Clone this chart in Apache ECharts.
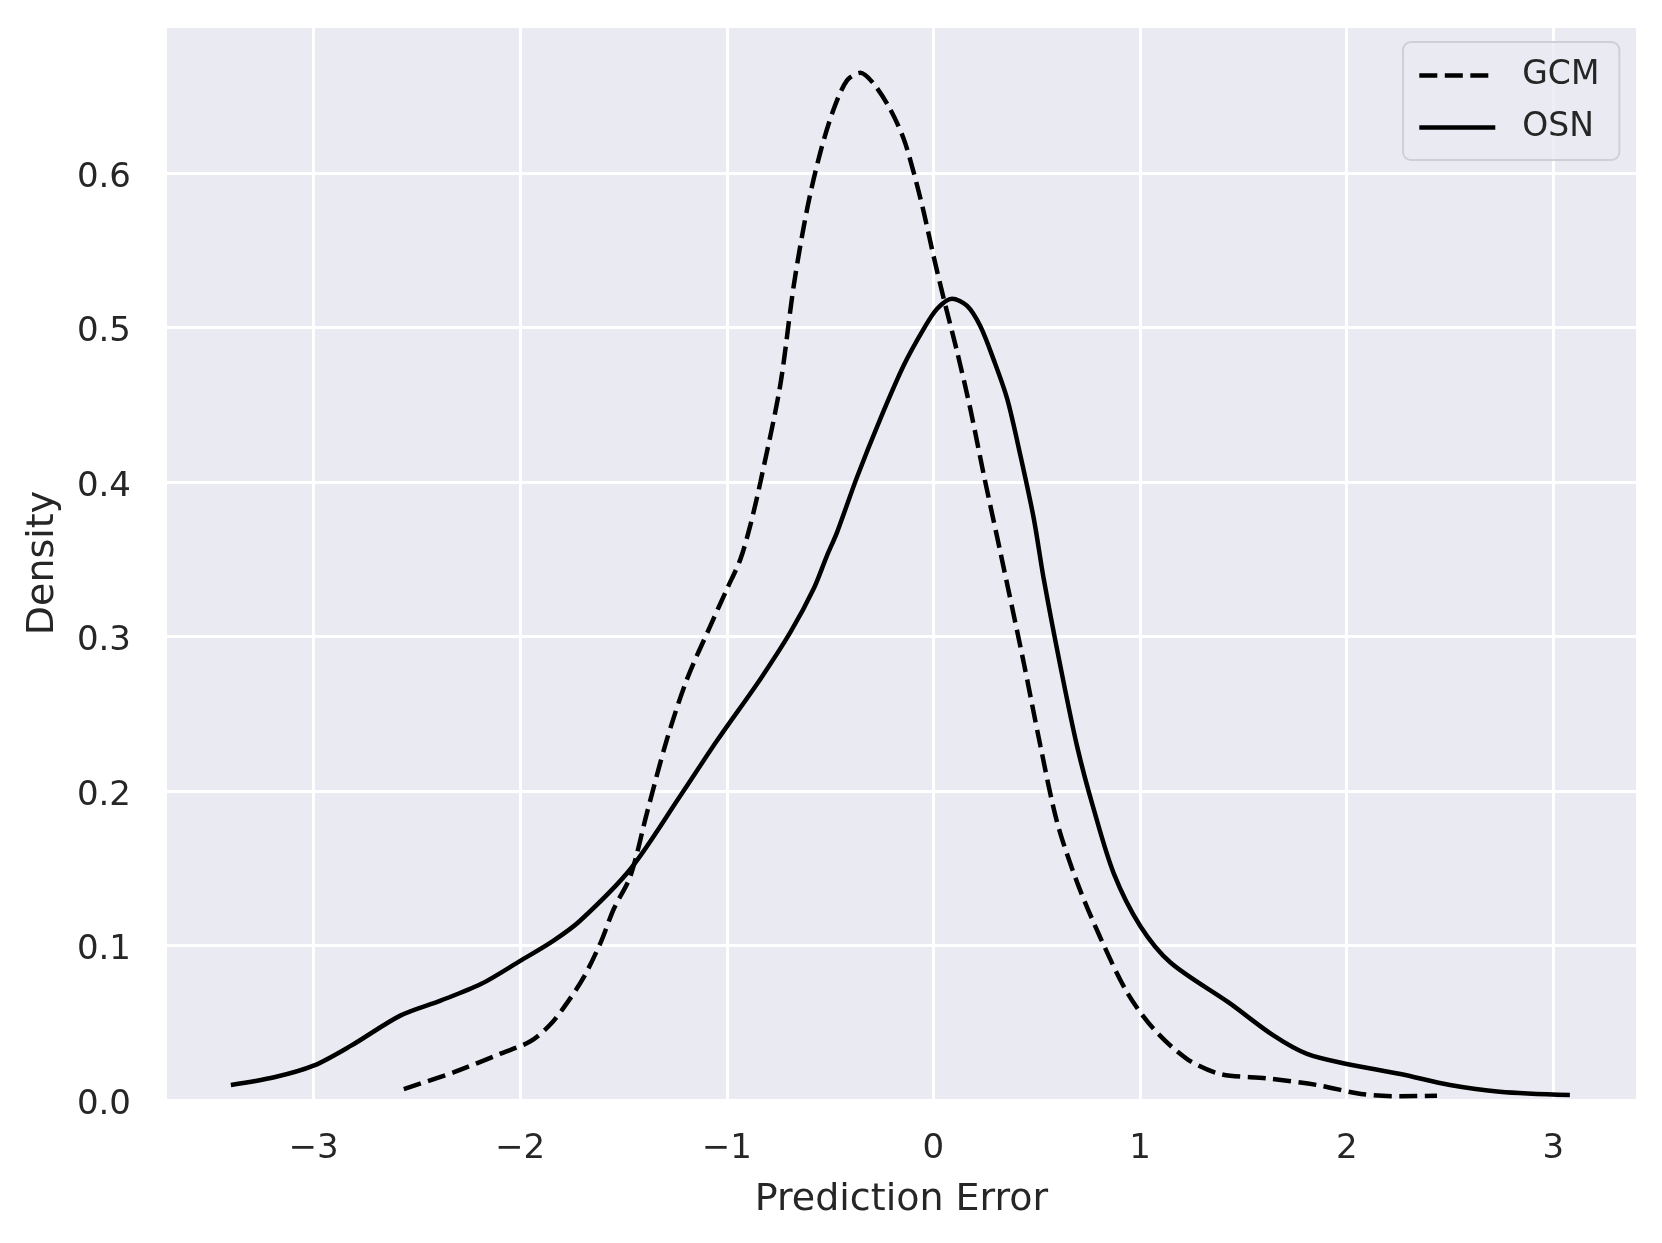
<!DOCTYPE html>
<html>
<head>
<meta charset="utf-8">
<script src="https://cdn.jsdelivr.net/npm/echarts@6/dist/echarts.min.js"></script>
<style>
  html, body { margin: 0; padding: 0; background: #fff; }
  #main { width: 1662px; height: 1243px; }
</style>
</head>
<body>
<div id="main"></div>
<script>
// GCM density curve (dashed)
const gcmX = [-2.563, -2.32, -2.095, -1.95, -1.853, -1.772, -1.69, -1.61, -1.547, -1.466, -1.386, -1.289, -1.192, -1.079, -0.998, -0.934, -0.886, -0.837, -0.742, -0.676, -0.611, -0.547, -0.482, -0.418, -0.354, -0.289, -0.21, -0.144, -0.096, -0.047, 0.0, 0.05, 0.115, 0.179, 0.243, 0.324, 0.437, 0.518, 0.598, 0.695, 0.808, 0.937, 1.066, 1.228, 1.389, 1.615, 1.857, 2.07, 2.26, 2.437];
const gcmY = [0.0071, 0.018, 0.030, 0.038, 0.049, 0.063, 0.080, 0.102, 0.1236, 0.145, 0.186, 0.2337, 0.2725, 0.307, 0.331, 0.350, 0.372, 0.400, 0.462, 0.527, 0.5767, 0.6134, 0.6414, 0.6598, 0.6647, 0.6576, 0.6414, 0.622, 0.6005, 0.5746, 0.5465, 0.5185, 0.484, 0.447, 0.405, 0.3545, 0.283, 0.229, 0.18, 0.141, 0.105, 0.0697, 0.046, 0.0265, 0.0168, 0.014, 0.0097, 0.0039, 0.0024, 0.0028];

// OSN density curve (solid)
const osnX = [-3.40, -3.19, -3.0, -2.82, -2.58, -2.385, -2.19, -2.0, -1.84, -1.71, -1.466, -1.224, -1.047, -0.837, -0.692, -0.579, -0.516, -0.466, -0.37, -0.257, -0.144, -0.047, 0.018, 0.09, 0.162, 0.226, 0.29, 0.357, 0.421, 0.486, 0.534, 0.614, 0.695, 0.776, 0.873, 1.0, 1.147, 1.43, 1.647, 1.808, 2.0, 2.26, 2.5, 2.74, 3.08];
const osnY = [0.0097, 0.0147, 0.0222, 0.035, 0.0546, 0.0643, 0.075, 0.090, 0.103, 0.116, 0.1495, 0.197, 0.2326, 0.2725, 0.3027, 0.331, 0.352, 0.3675, 0.403, 0.4408, 0.4753, 0.499, 0.512, 0.5185, 0.514, 0.501, 0.4796, 0.4537, 0.417, 0.376, 0.337, 0.281, 0.229, 0.188, 0.1465, 0.1128, 0.089, 0.063, 0.0416, 0.0298, 0.0233, 0.0168, 0.0097, 0.0054, 0.0032];

const xTicks = [-3, -2, -1, 0, 1, 2, 3];

const pairs = (xs, ys) => xs.map((x, i) => [x, ys[i]]);
const font = 'DejaVu Sans';
const textColor = '#262626';
const dash = [18, 7.5];

const chart = echarts.init(document.getElementById('main'));
const option = {
  animation: false,
  backgroundColor: '#ffffff',
  grid: {
    left: 167, right: 26, top: 26, bottom: 143,
    show: true, backgroundColor: '#EAEAF2', borderWidth: 0
  },
  legend: {
    orient: 'vertical',
    left: 1403, top: 42,
    padding: [17, 20, 16, 14],
    itemWidth: 76, itemHeight: 33, itemGap: 19,
    backgroundColor: 'rgba(234,234,242,0.8)',
    borderColor: '#CFCFD6', borderWidth: 2, borderRadius: 8,
    itemStyle: { color: 'transparent', borderColor: 'transparent', borderWidth: 0, opacity: 0 },
    textStyle: { fontFamily: font, fontSize: 33, color: textColor, lineHeight: 33, padding: [0, 0, 0, 22] },
    data: [
      { name: 'GCM', lineStyle: { color: '#000', width: 4.6, type: dash } },
      { name: 'OSN', lineStyle: { color: '#000', width: 4.6, type: 'solid' } }
    ]
  },
  xAxis: {
    type: 'value',
    min: -3.709, max: 3.40,
    name: 'Prediction Error',
    nameLocation: 'middle', nameGap: 81,
    nameTextStyle: { fontFamily: font, fontSize: 38, color: textColor },
    axisLine: { show: false },
    axisTick: { show: false, customValues: xTicks },
    axisLabel: {
      customValues: xTicks,
      margin: 32,
      fontFamily: font, fontSize: 34, color: textColor,
      formatter: v => (v < 0 ? '\u2212' + Math.abs(v) : String(v))
    },
    splitLine: { show: true, lineStyle: { color: '#ffffff', width: 3 } }
  },
  yAxis: {
    type: 'value',
    min: 0, max: 0.695, interval: 0.1,
    name: 'Density',
    nameLocation: 'middle', nameGap: 105,
    nameTextStyle: { fontFamily: font, fontSize: 38, color: textColor },
    axisLine: { show: false },
    axisTick: { show: false },
    axisLabel: {
      margin: 36,
      fontFamily: font, fontSize: 34, color: textColor,
      formatter: v => (Math.abs(v * 10 - Math.round(v * 10)) < 1e-6 ? '{v|' + v.toFixed(1) + '}' : ''),
      rich: { v: { fontFamily: font, fontSize: 34, color: textColor, padding: [10, 0, 0, 0] } }
    },
    splitLine: { show: true, lineStyle: { color: '#ffffff', width: 3 } }
  },
  series: [
    {
      name: 'GCM',
      type: 'line',
      data: pairs(gcmX, gcmY),
      smooth: 0.3,
      symbol: 'none',
      lineStyle: { color: '#000', width: 4.5, type: dash },
      itemStyle: { color: '#000' }
    },
    {
      name: 'OSN',
      type: 'line',
      data: pairs(osnX, osnY),
      smooth: 0.3,
      symbol: 'none',
      lineStyle: { color: '#000', width: 4.5, type: 'solid' },
      itemStyle: { color: '#000' }
    }
  ]
};
chart.setOption(option);
</script>
</body>
</html>
